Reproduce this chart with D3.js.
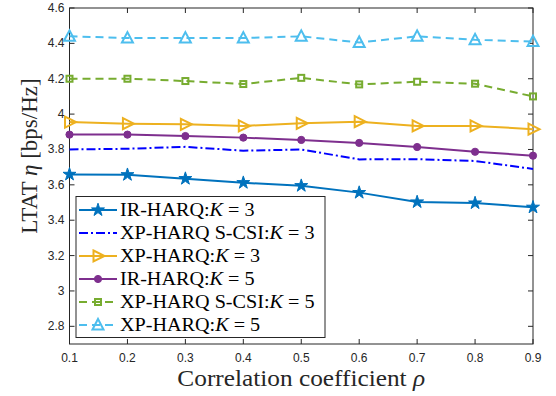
<meta charset="utf-8">
<title>LTAT vs correlation</title>
<body style="margin:0;background:#fff">
<script src="https://cdn.jsdelivr.net/npm/d3@7"></script>
<script>
// data ===========================================================
var rho = [0.1, 0.2, 0.3, 0.4, 0.5, 0.6, 0.7, 0.8, 0.9];
var irK3   = [3.659, 3.657, 3.635, 3.612, 3.595, 3.556, 3.503, 3.497, 3.473];
var scsiK3 = [3.800, 3.804, 3.815, 3.793, 3.800, 3.744, 3.745, 3.735, 3.690];
var xpK3   = [3.955, 3.946, 3.942, 3.933, 3.948, 3.957, 3.933, 3.933, 3.915];
var irK5   = [3.884, 3.884, 3.876, 3.867, 3.854, 3.837, 3.814, 3.787, 3.765];
var scsiK5 = [4.200, 4.200, 4.187, 4.170, 4.205, 4.168, 4.183, 4.172, 4.100];
var xpK5   = [4.440, 4.430, 4.430, 4.430, 4.440, 4.405, 4.440, 4.420, 4.410];
var xTicks = [0.1, 0.2, 0.3, 0.4, 0.5, 0.6, 0.7, 0.8, 0.9];
var yTicks = [2.8, 3, 3.2, 3.4, 3.6, 3.8, 4, 4.2, 4.4, 4.6];
var names = ['IR-HARQ:', 'XP-HARQ S-CSI:', 'XP-HARQ:', 'IR-HARQ:', 'XP-HARQ S-CSI:', 'XP-HARQ:'];
var kVals = [3, 3, 3, 5, 5, 5];

var series = [
  {v: irK3,   color: '#0072BD', dash: null,      marker: 'star'},
  {v: scsiK3, color: '#0000FF', dash: '9,3,2,3', marker: null},
  {v: xpK3,   color: '#EDB120', dash: null,      marker: 'tri'},
  {v: irK5,   color: '#7E2F8E', dash: null,      marker: 'circle'},
  {v: scsiK5, color: '#77AC30', dash: '8,5',     marker: 'square'},
  {v: xpK5,   color: '#4DBEEE', dash: '8,5',     marker: 'up'}
];

var width = 556, height = 396;
var L = 69.5, R = 533, T = 8, B = 344;

var x = d3.scaleLinear().domain([0.1, 0.9]).range([L, R]);
var y = d3.scaleLinear().domain([2.7, 4.6]).range([B, T]);

var svg = d3.select('body').append('svg')
    .attr('width', width)
    .attr('height', height)
    .style('display', 'block');

// axes box ======================================================
svg.append('rect')
    .attr('x', L).attr('y', T).attr('width', R - L).attr('height', B - T)
    .style('fill', 'none').style('stroke', '#262626').style('stroke-width', 1);

var tickFont = '"Liberation Sans", Arial, sans-serif';
xTicks.forEach(function(t) {
  svg.append('line').attr('x1', x(t)).attr('x2', x(t)).attr('y1', B).attr('y2', B - 5)
      .style('stroke', '#262626');
  svg.append('line').attr('x1', x(t)).attr('x2', x(t)).attr('y1', T).attr('y2', T + 5)
      .style('stroke', '#262626');
  svg.append('text').attr('x', x(t)).attr('y', B + 18)
      .attr('text-anchor', 'middle')
      .style('font-family', tickFont).style('font-size', '12px').style('fill', '#262626')
      .text(t);
});
yTicks.forEach(function(t) {
  svg.append('line').attr('x1', L).attr('x2', L + 5).attr('y1', y(t)).attr('y2', y(t))
      .style('stroke', '#262626');
  svg.append('line').attr('x1', R).attr('x2', R - 5).attr('y1', y(t)).attr('y2', y(t))
      .style('stroke', '#262626');
  svg.append('text').attr('x', L - 5).attr('y', y(t) + 4)
      .attr('text-anchor', 'end')
      .style('font-family', tickFont).style('font-size', '12px').style('fill', '#262626')
      .text(t);
});

// markers =======================================================
function drawMarker(g, type, cx, cy, color) {
  if (type == 'star') {
    g.append('path').attr('d', d3.symbol().type(d3.symbolStar).size(52)())
        .attr('transform', 'translate(' + cx + ',' + cy + ')')
        .style('fill', color).style('stroke', color).style('stroke-width', 1);
  } else if (type == 'circle') {
    g.append('circle').attr('cx', cx).attr('cy', cy).attr('r', 3.6)
        .style('fill', color).style('stroke', color);
  } else if (type == 'square') {
    g.append('rect').attr('x', cx - 3).attr('y', cy - 3).attr('width', 6).attr('height', 6)
        .style('fill', 'none').style('stroke', color).style('stroke-width', 2);
  } else if (type == 'tri') {
    g.append('path').attr('d', 'M' + (cx - 4.5) + ',' + (cy - 5.5) + 'L' + (cx + 6.5) + ',' + cy + 'L' + (cx - 4.5) + ',' + (cy + 5.5) + 'Z')
        .style('fill', 'none').style('stroke', color).style('stroke-width', 2);
  } else if (type == 'up') {
    g.append('path').attr('d', 'M' + (cx - 5.5) + ',' + (cy + 4.5) + 'L' + cx + ',' + (cy - 6) + 'L' + (cx + 5.5) + ',' + (cy + 4.5) + 'Z')
        .style('fill', 'none').style('stroke', color).style('stroke-width', 2);
  }
}

var line = d3.line()
    .x(function(d, i) { return x(rho[i]); })
    .y(function(d) { return y(d); });

var plot = svg.append('g');
series.forEach(function(s) {
  plot.append('path').attr('d', line(s.v))
      .style('fill', 'none').style('stroke', s.color).style('stroke-width', 2)
      .style('stroke-dasharray', s.dash);
  if (s.marker) {
    s.v.forEach(function(d, i) { drawMarker(plot, s.marker, x(rho[i]), y(d), s.color); });
  }
});

// stretch Times-like glyphs to the wider LaTeX widths
function widen(t, k) {
  var len = t.node().getComputedTextLength();
  t.attr('textLength', len * k).attr('lengthAdjust', 'spacingAndGlyphs');
}

// legend ========================================================
var lg = svg.append('g');
lg.append('rect').attr('x', 76).attr('y', 196.5).attr('width', 249).attr('height', 141)
    .style('fill', 'white').style('stroke', '#262626').style('stroke-width', 1);
var serif = '"Liberation Serif", "DejaVu Serif", serif';
series.forEach(function(s, i) {
  var cy = 210 + i * 23;
  lg.append('line').attr('x1', 79).attr('x2', 117).attr('y1', cy).attr('y2', cy)
      .style('stroke', s.color).style('stroke-width', 2)
      .style('stroke-dasharray', s.dash);
  if (s.marker) drawMarker(lg, s.marker, 98, cy, s.color);
  var t = lg.append('text').attr('x', 120).attr('y', cy + 6)
      .style('font-family', serif).style('font-size', '18px').style('fill', '#000');
  t.append('tspan').text(names[i]);
  t.append('tspan').style('font-style', 'italic').text('K');
  t.append('tspan').text(' = ' + kVals[i]);
  widen(t, 1.12);
});

// axis labels ===================================================
var xl = svg.append('text').attr('x', (L + R) / 2).attr('y', 386)
    .attr('text-anchor', 'middle')
    .style('font-family', serif).style('font-size', '23px').style('fill', '#262626')
    .html('Correlation coefficient <tspan font-style="italic">ρ</tspan>');
widen(xl, 1.1);
var yl = svg.append('text')
    .attr('transform', 'translate(37,156) rotate(-90)')
    .attr('text-anchor', 'middle')
    .style('font-family', serif).style('font-size', '23px').style('fill', '#262626')
    .html('LTAT <tspan font-style="italic">η</tspan> [bps/Hz]');
widen(yl, 1.0);
</script>
